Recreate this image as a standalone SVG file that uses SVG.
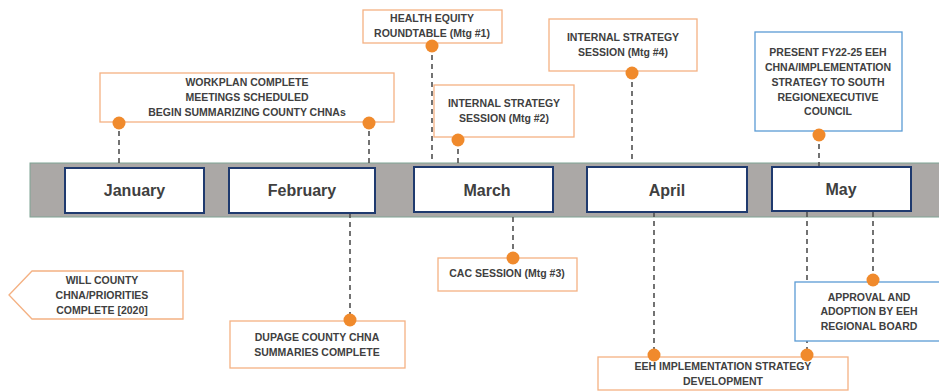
<svg xmlns="http://www.w3.org/2000/svg" width="939" height="392" viewBox="0 0 939 392">
<style>
.t{font-family:"Liberation Sans",Arial,sans-serif;font-weight:bold;font-size:10.5px;fill:#404040;text-anchor:middle}
.m{font-family:"Liberation Sans",Arial,sans-serif;font-weight:bold;font-size:16px;fill:#404040;text-anchor:middle}
.ob{fill:#fff;stroke:#F4B183;stroke-width:1.3}
.bb{fill:#fff;stroke:#5B9BD5;stroke-width:1.3}
.mb{fill:#fff;stroke:#1F3A6E;stroke-width:2}
.dot{fill:#F08A2C}
.d{stroke:#505050;stroke-width:1.6;stroke-dasharray:5,4;fill:none}
</style>
<rect width="939" height="392" fill="#fff"/>
<g id="band"><rect x="30" y="163" width="912" height="54" fill="#ABA8A6" stroke="#7FA394" stroke-width="1"/></g>
<g id="connectors">
<line class="d" x1="119" y1="122" x2="119" y2="163"/>
<line class="d" x1="369" y1="122" x2="369" y2="168"/>
<line class="d" x1="432" y1="46" x2="432" y2="163"/>
<line class="d" x1="458" y1="140" x2="458" y2="163"/>
<line class="d" x1="632" y1="73" x2="632" y2="163"/>
<line class="d" x1="819" y1="135" x2="819" y2="167"/>
<line class="d" x1="350" y1="213" x2="350" y2="320"/>
<line class="d" x1="513" y1="217" x2="513" y2="258"/>
<line class="d" x1="654" y1="212" x2="654" y2="355"/>
<line class="d" x1="807" y1="212" x2="807" y2="355"/>
<line class="d" x1="873" y1="212" x2="873" y2="280"/>
</g>
<g id="january"><rect class="mb" x="65" y="168" width="139" height="45"/><text class="m" x="134.5" y="196">January</text></g>
<g id="february"><rect class="mb" x="229" y="168" width="146" height="45"/><text class="m" x="302" y="196">February</text></g>
<g id="march"><rect class="mb" x="414" y="167" width="139" height="45"/><text class="m" x="487" y="196">March</text></g>
<g id="april"><rect class="mb" x="587" y="167" width="160" height="45"/><text class="m" x="667" y="196">April</text></g>
<g id="may"><rect class="mb" x="772" y="167" width="139" height="44"/><text class="m" x="841" y="195">May</text></g>
<g id="workplan"><rect class="ob" x="100" y="73" width="294" height="49"/>
<text class="t" x="247" y="86">WORKPLAN COMPLETE</text>
<text class="t" x="247" y="101">MEETINGS SCHEDULED</text>
<text class="t" x="247" y="116">BEGIN SUMMARIZING COUNTY CHNAs</text>
<circle class="dot" cx="119" cy="123" r="6.5"/><circle class="dot" cx="369" cy="123" r="6.5"/></g>
<g id="health"><rect class="ob" x="363" y="10" width="139" height="33"/>
<text class="t" x="432" y="22">HEALTH EQUITY</text>
<text class="t" x="432" y="37">ROUNDTABLE (Mtg #1)</text>
<circle class="dot" cx="432" cy="46" r="6.5"/></g>
<g id="mtg2"><rect class="ob" x="434" y="85" width="140" height="52"/>
<text class="t" x="504" y="107">INTERNAL STRATEGY</text>
<text class="t" x="504" y="122">SESSION (Mtg #2)</text>
<circle class="dot" cx="458" cy="140" r="6.5"/></g>
<g id="mtg4"><rect class="ob" x="549" y="19" width="148" height="52"/>
<text class="t" x="623" y="41">INTERNAL STRATEGY</text>
<text class="t" x="623" y="56">SESSION (Mtg #4)</text>
<circle class="dot" cx="632" cy="73" r="6.5"/></g>
<g id="present"><rect class="bb" x="755" y="32" width="147" height="99"/>
<text class="t" x="828" y="56">PRESENT FY22-25 EEH</text>
<text class="t" x="828" y="71">CHNA/IMPLEMENTATION</text>
<text class="t" x="828" y="86">STRATEGY TO SOUTH</text>
<text class="t" x="828" y="101">REGIONEXECUTIVE</text>
<text class="t" x="828" y="115">COUNCIL</text>
<circle class="dot" cx="819" cy="135" r="6.5"/></g>
<g id="will"><polygon class="ob" points="9,295 32,271 183,271 183,319 32,319"/>
<text class="t" x="102" y="284">WILL COUNTY</text>
<text class="t" x="102" y="299">CHNA/PRIORITIES</text>
<text class="t" x="102" y="314">COMPLETE [2020]</text></g>
<g id="dupage"><rect class="ob" x="230" y="321" width="175" height="47"/>
<text class="t" x="317" y="341">DUPAGE COUNTY CHNA</text>
<text class="t" x="317" y="356">SUMMARIES COMPLETE</text>
<circle class="dot" cx="350" cy="320" r="6.5"/></g>
<g id="cac"><rect class="ob" x="438" y="258" width="139" height="33"/>
<text class="t" x="507" y="277">CAC SESSION (Mtg #3)</text>
<circle class="dot" cx="513" cy="258" r="6.5"/></g>
<g id="approval"><rect class="bb" x="795" y="282" width="150" height="59"/>
<text class="t" x="869" y="301">APPROVAL AND</text>
<text class="t" x="869" y="315">ADOPTION BY EEH</text>
<text class="t" x="869" y="330">REGIONAL BOARD</text>
<circle class="dot" cx="873" cy="280" r="6.5"/></g>
<g id="eeh"><rect class="ob" x="598" y="357" width="250" height="33"/>
<text class="t" x="723" y="370">EEH IMPLEMENTATION STRATEGY</text>
<text class="t" x="723" y="385">DEVELOPMENT</text>
<circle class="dot" cx="654" cy="355" r="6.5"/><circle class="dot" cx="807" cy="355" r="6.5"/></g>
</svg>
